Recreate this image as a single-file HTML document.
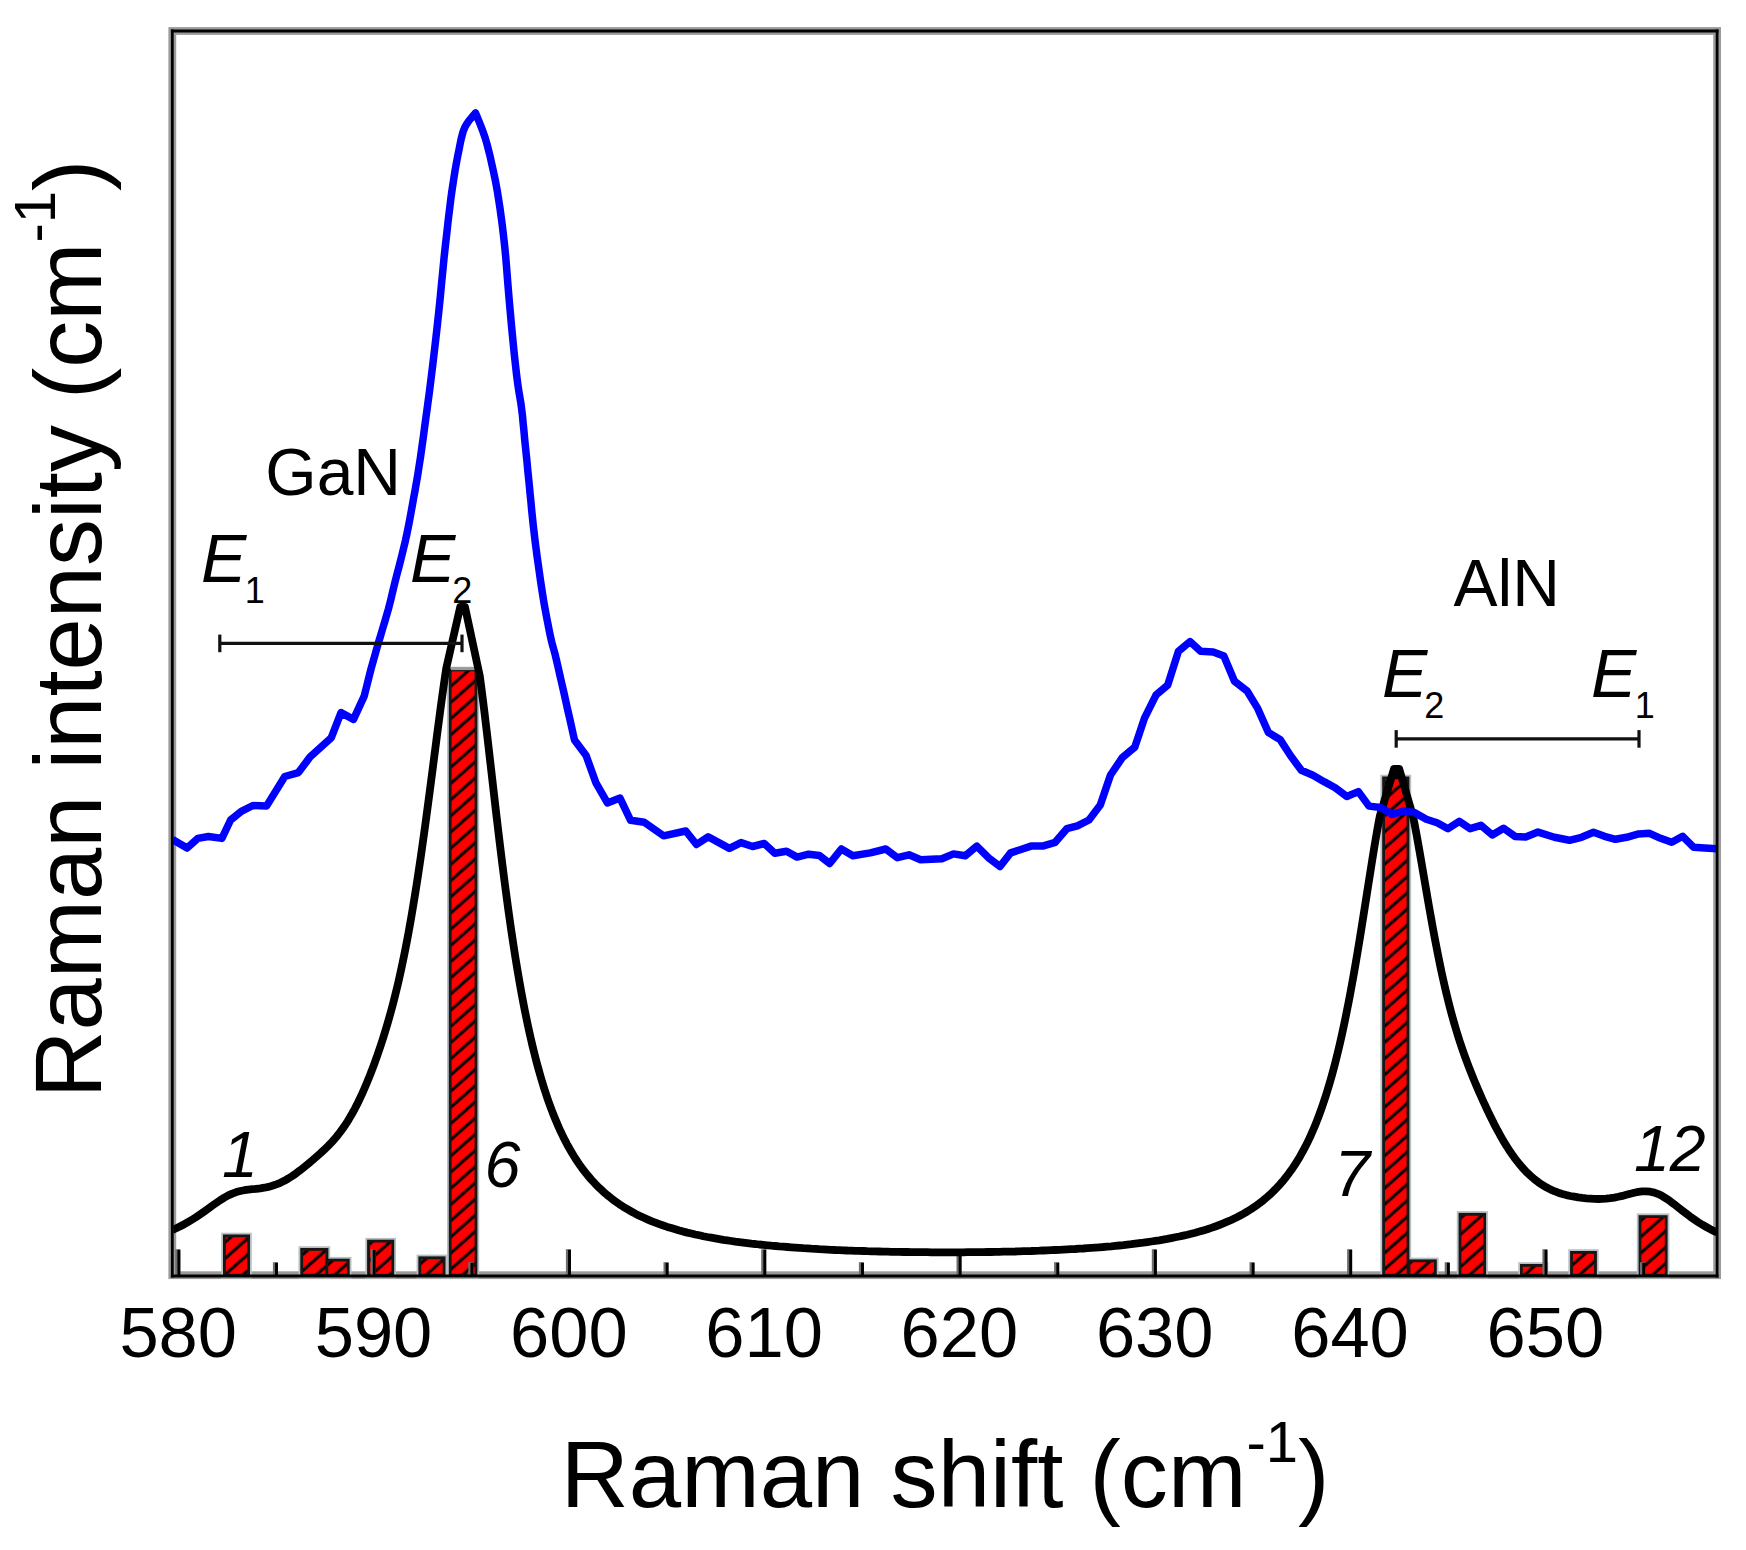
<!DOCTYPE html>
<html lang="en"><head><meta charset="utf-8"><title>Raman spectrum</title>
<style>html,body{margin:0;padding:0;background:#fff}body{width:1746px;height:1550px;overflow:hidden}svg{display:block}text{font-family:"Liberation Sans",sans-serif;fill:#000}.it{font-style:italic}</style></head><body>
<svg width="1746" height="1550" viewBox="0 0 1746 1550">
<defs>
<pattern id="h" patternUnits="userSpaceOnUse" width="12.13" height="12.13" patternTransform="translate(451 -2.3) rotate(-41.5)"><rect width="12.13" height="12.13" fill="#ff0000"/><line x1="0" y1="6.07" x2="12.13" y2="6.07" stroke="#140000" stroke-width="3.2"/></pattern>
<clipPath id="cp"><rect x="173.3" y="31.0" width="1542.8" height="1244.2"/></clipPath>
</defs>
<rect width="1746" height="1550" fill="#fff"/>
<rect x="172.3" y="31.0" width="1544.8" height="1244.2" fill="none" stroke="#9b9b9b" stroke-width="7.8"/>
<g stroke="#b9c0c4" stroke-width="6.4" fill="none">
<rect x="224.4" y="1235.9" width="24.2" height="39.3"/>
<rect x="301.7" y="1249.4" width="25.3" height="25.8"/>
<rect x="326.9" y="1260.1" width="21.4" height="15.1"/>
<rect x="368.5" y="1241.1" width="24.3" height="34.1"/>
<rect x="419.8" y="1257.8" width="24.3" height="17.4"/>
<rect x="450.2" y="669.9" width="25.8" height="605.3"/>
<rect x="1383.6" y="777.9" width="24.4" height="497.3"/>
<rect x="1409.0" y="1260.8" width="26.4" height="14.4"/>
<rect x="1460.0" y="1214.3" width="24.7" height="60.9"/>
<rect x="1521.4" y="1265.4" width="23.7" height="9.8"/>
<rect x="1571.5" y="1252.4" width="24.0" height="22.8"/>
<rect x="1640.0" y="1216.6" width="26.2" height="58.6"/>
</g>
<g stroke="#161616" stroke-width="2.8" fill="url(#h)">
<rect x="224.4" y="1235.9" width="24.2" height="39.3"/>
<rect x="301.7" y="1249.4" width="25.3" height="25.8"/>
<rect x="326.9" y="1260.1" width="21.4" height="15.1"/>
<rect x="368.5" y="1241.1" width="24.3" height="34.1"/>
<rect x="419.8" y="1257.8" width="24.3" height="17.4"/>
<rect x="450.2" y="669.9" width="25.8" height="605.3"/>
<rect x="1383.6" y="777.9" width="24.4" height="497.3"/>
<rect x="1409.0" y="1260.8" width="26.4" height="14.4"/>
<rect x="1460.0" y="1214.3" width="24.7" height="60.9"/>
<rect x="1521.4" y="1265.4" width="23.7" height="9.8"/>
<rect x="1571.5" y="1252.4" width="24.0" height="22.8"/>
<rect x="1640.0" y="1216.6" width="26.2" height="58.6"/>
</g>
<line x1="451" y1="668.6" x2="476" y2="668.6" stroke="#9a9a9a" stroke-width="3"/>
<g stroke="#6e6e6e" stroke-width="5.0">
<line x1="177.8" y1="1275.2" x2="177.8" y2="1249.2"/>
<line x1="275.4" y1="1275.2" x2="275.4" y2="1262.2"/>
<line x1="373.1" y1="1275.2" x2="373.1" y2="1249.2"/>
<line x1="470.8" y1="1275.2" x2="470.8" y2="1262.2"/>
<line x1="568.4" y1="1275.2" x2="568.4" y2="1249.2"/>
<line x1="666.0" y1="1275.2" x2="666.0" y2="1262.2"/>
<line x1="763.7" y1="1275.2" x2="763.7" y2="1249.2"/>
<line x1="861.4" y1="1275.2" x2="861.4" y2="1262.2"/>
<line x1="959.0" y1="1275.2" x2="959.0" y2="1249.2"/>
<line x1="1056.6" y1="1275.2" x2="1056.6" y2="1262.2"/>
<line x1="1154.3" y1="1275.2" x2="1154.3" y2="1249.2"/>
<line x1="1252.0" y1="1275.2" x2="1252.0" y2="1262.2"/>
<line x1="1349.6" y1="1275.2" x2="1349.6" y2="1249.2"/>
<line x1="1447.2" y1="1275.2" x2="1447.2" y2="1262.2"/>
<line x1="1544.9" y1="1275.2" x2="1544.9" y2="1249.2"/>
<line x1="1642.5" y1="1275.2" x2="1642.5" y2="1262.2"/>
</g>
<g stroke="#000" stroke-width="2.9">
<line x1="178.9" y1="1275.2" x2="178.9" y2="1249.8"/>
<line x1="276.5" y1="1275.2" x2="276.5" y2="1262.8"/>
<line x1="374.2" y1="1275.2" x2="374.2" y2="1249.8"/>
<line x1="471.9" y1="1275.2" x2="471.9" y2="1262.8"/>
<line x1="569.5" y1="1275.2" x2="569.5" y2="1249.8"/>
<line x1="667.1" y1="1275.2" x2="667.1" y2="1262.8"/>
<line x1="764.8" y1="1275.2" x2="764.8" y2="1249.8"/>
<line x1="862.5" y1="1275.2" x2="862.5" y2="1262.8"/>
<line x1="960.1" y1="1275.2" x2="960.1" y2="1249.8"/>
<line x1="1057.8" y1="1275.2" x2="1057.8" y2="1262.8"/>
<line x1="1155.4" y1="1275.2" x2="1155.4" y2="1249.8"/>
<line x1="1253.1" y1="1275.2" x2="1253.1" y2="1262.8"/>
<line x1="1350.7" y1="1275.2" x2="1350.7" y2="1249.8"/>
<line x1="1448.4" y1="1275.2" x2="1448.4" y2="1262.8"/>
<line x1="1546.0" y1="1275.2" x2="1546.0" y2="1249.8"/>
<line x1="1643.7" y1="1275.2" x2="1643.7" y2="1262.8"/>
</g>
<g clip-path="url(#cp)" fill="none" stroke-linejoin="round" stroke-linecap="butt">
<polyline stroke="#000" stroke-width="7.8" points="172.3,1230.0 176.3,1228.2 180.3,1226.3 184.3,1224.2 188.3,1221.9 192.3,1219.5 196.3,1217.0 200.3,1214.3 204.3,1211.5 208.3,1208.6 212.3,1205.7 216.3,1202.9 220.3,1200.1 224.3,1197.6 228.3,1195.4 232.3,1193.6 236.3,1192.1 240.3,1191.0 244.3,1190.2 248.3,1189.6 252.3,1189.2 256.3,1188.8 260.3,1188.3 264.3,1187.7 268.3,1186.9 272.3,1185.8 276.3,1184.4 280.3,1182.8 284.3,1180.8 288.3,1178.5 292.3,1176.0 296.3,1173.2 300.3,1170.2 304.3,1167.0 308.3,1163.8 312.3,1160.4 316.3,1156.9 320.3,1153.4 324.3,1149.7 328.3,1145.8 332.3,1141.6 336.3,1137.0 340.3,1131.9 344.3,1126.4 345.8,1124.1 347.3,1121.8 348.8,1119.4 350.3,1116.8 351.8,1114.2 353.3,1111.5 354.8,1108.8 356.3,1105.9 357.8,1102.9 359.3,1099.8 360.8,1096.6 362.3,1093.4 363.8,1090.0 365.3,1086.5 366.8,1083.0 368.3,1079.3 369.8,1075.6 371.3,1071.8 372.8,1067.8 374.3,1063.8 375.8,1059.7 377.3,1055.5 378.8,1051.1 380.3,1046.7 381.8,1042.1 383.3,1037.5 384.8,1032.7 386.3,1027.7 387.8,1022.6 389.3,1017.4 390.8,1012.0 392.3,1006.4 393.8,1000.7 395.3,994.8 396.8,988.6 398.3,982.3 399.8,975.7 401.3,968.9 402.8,961.8 404.3,954.5 405.8,947.0 407.3,939.2 408.8,931.1 410.3,922.7 411.8,914.1 413.3,905.2 414.8,896.0 416.3,886.6 417.8,876.9 419.3,866.9 420.8,856.7 422.3,846.2 423.8,835.5 425.3,824.7 426.8,813.6 428.3,802.3 429.8,791.0 431.3,779.5 432.8,767.9 434.3,756.3 435.8,744.7 437.3,733.1 438.8,721.7 440.3,710.3 441.8,699.3 443.3,688.5 444.8,678.0 446.3,668.0 460.2,607.0 465.0,607.0 479.8,676.0 481.3,687.2 482.8,699.0 484.3,711.1 485.8,723.6 487.3,736.3 488.8,749.2 490.3,762.2 491.8,775.3 493.3,788.3 494.8,801.3 496.3,814.2 497.8,826.9 499.3,839.5 500.8,851.8 502.3,863.9 503.8,875.8 505.3,887.3 506.8,898.6 508.3,909.6 509.8,920.3 511.3,930.7 512.8,940.7 514.3,950.5 515.8,960.0 517.3,969.1 518.8,977.9 520.3,986.5 521.8,994.7 523.3,1002.7 524.8,1010.4 526.3,1017.8 527.8,1025.0 529.3,1031.9 530.8,1038.5 532.3,1045.0 533.8,1051.2 535.3,1057.1 536.8,1062.9 538.3,1068.4 539.8,1073.8 541.3,1079.0 542.8,1083.9 544.3,1088.8 545.8,1093.4 547.3,1097.9 548.8,1102.2 550.3,1106.3 551.8,1110.4 553.3,1114.2 554.8,1118.0 556.3,1121.6 557.8,1125.1 559.3,1128.5 560.8,1131.8 562.3,1134.9 563.8,1138.0 565.3,1140.9 566.8,1143.8 568.3,1146.5 569.8,1149.2 571.3,1151.8 572.8,1154.3 574.3,1156.7 575.8,1159.1 577.3,1161.4 578.8,1163.6 580.3,1165.7 581.8,1167.8 583.3,1169.8 587.3,1174.9 591.3,1179.6 595.3,1183.9 599.3,1187.9 603.3,1191.7 607.3,1195.1 611.3,1198.3 615.3,1201.3 619.3,1204.2 623.3,1206.8 627.3,1209.2 631.3,1211.5 635.3,1213.7 639.3,1215.7 643.3,1217.6 647.3,1219.4 651.3,1221.1 655.3,1222.6 659.3,1224.1 663.3,1225.5 667.3,1226.9 671.3,1228.1 675.3,1229.3 679.3,1230.5 683.3,1231.6 687.3,1232.6 691.3,1233.5 695.3,1234.5 699.3,1235.3 703.3,1236.2 707.3,1237.0 711.3,1237.7 715.3,1238.4 719.3,1239.1 723.3,1239.8 727.3,1240.4 731.3,1241.0 735.3,1241.6 739.3,1242.1 743.3,1242.6 747.3,1243.1 751.3,1243.6 755.3,1244.0 759.3,1244.5 763.3,1244.9 767.3,1245.3 771.3,1245.7 775.3,1246.0 779.3,1246.4 783.3,1246.7 787.3,1247.0 791.3,1247.3 795.3,1247.6 799.3,1247.9 803.3,1248.2 807.3,1248.4 811.3,1248.7 815.3,1248.9 819.3,1249.2 823.3,1249.4 827.3,1249.6 831.3,1249.8 835.3,1250.0 839.3,1250.1 843.3,1250.3 847.3,1250.5 851.3,1250.6 855.3,1250.8 859.3,1250.9 863.3,1251.0 867.3,1251.2 871.3,1251.3 875.3,1251.4 879.3,1251.5 883.3,1251.6 887.3,1251.7 891.3,1251.8 895.3,1251.8 899.3,1251.9 903.3,1252.0 907.3,1252.0 911.3,1252.1 915.3,1252.1 919.3,1252.2 923.3,1252.2 927.3,1252.2 931.3,1252.3 935.3,1252.3 939.3,1252.3 943.3,1252.3 947.3,1252.3 951.3,1252.3 955.3,1252.3 959.3,1252.3 963.3,1252.3 967.3,1252.2 971.3,1252.2 975.3,1252.2 979.3,1252.1 983.3,1252.1 987.3,1252.0 991.3,1252.0 995.3,1251.9 999.3,1251.8 1003.3,1251.7 1007.3,1251.7 1011.3,1251.6 1015.3,1251.5 1019.3,1251.3 1023.3,1251.2 1027.3,1251.1 1031.3,1251.0 1035.3,1250.8 1039.3,1250.7 1043.3,1250.5 1047.3,1250.4 1051.3,1250.2 1055.3,1250.0 1059.3,1249.8 1063.3,1249.6 1067.3,1249.4 1071.3,1249.2 1075.3,1249.0 1079.3,1248.7 1083.3,1248.5 1087.3,1248.2 1091.3,1247.9 1095.3,1247.6 1099.3,1247.3 1103.3,1247.0 1107.3,1246.6 1111.3,1246.3 1115.3,1245.9 1119.3,1245.5 1123.3,1245.1 1127.3,1244.6 1131.3,1244.2 1135.3,1243.7 1139.3,1243.2 1143.3,1242.7 1147.3,1242.1 1151.3,1241.5 1155.3,1240.9 1159.3,1240.3 1163.3,1239.6 1167.3,1238.9 1171.3,1238.1 1175.3,1237.3 1179.3,1236.5 1183.3,1235.6 1187.3,1234.7 1191.3,1233.7 1195.3,1232.7 1199.3,1231.6 1203.3,1230.4 1207.3,1229.2 1211.3,1227.9 1215.3,1226.5 1219.3,1225.0 1223.3,1223.4 1227.3,1221.7 1231.3,1220.0 1235.3,1218.1 1239.3,1216.0 1243.3,1213.8 1247.3,1211.5 1251.3,1209.0 1255.3,1206.3 1259.3,1203.4 1263.3,1200.3 1267.3,1196.9 1271.3,1193.3 1275.3,1189.4 1279.3,1185.1 1280.8,1183.4 1282.3,1181.7 1283.8,1179.9 1285.3,1178.0 1286.8,1176.1 1288.3,1174.2 1289.8,1172.1 1291.3,1170.0 1292.8,1167.9 1294.3,1165.6 1295.8,1163.3 1297.3,1160.9 1298.8,1158.4 1300.3,1155.9 1301.8,1153.2 1303.3,1150.5 1304.8,1147.6 1306.3,1144.7 1307.8,1141.7 1309.3,1138.6 1310.8,1135.3 1312.3,1131.9 1313.8,1128.5 1315.3,1124.9 1316.8,1121.1 1318.3,1117.3 1319.8,1113.2 1321.3,1109.1 1322.8,1104.8 1324.3,1100.3 1325.8,1095.7 1327.3,1090.9 1328.8,1086.0 1330.3,1080.9 1331.8,1075.6 1333.3,1070.1 1334.8,1064.4 1336.3,1058.5 1337.8,1052.4 1339.3,1046.1 1340.8,1039.6 1342.3,1032.8 1343.8,1025.9 1345.3,1018.7 1346.8,1011.3 1348.3,1003.7 1349.8,995.9 1351.3,987.9 1352.8,979.6 1354.3,971.2 1355.8,962.5 1357.3,953.7 1358.8,944.6 1360.3,935.5 1361.8,926.2 1363.3,916.7 1364.8,907.2 1366.3,897.7 1367.8,888.1 1369.3,878.6 1370.8,869.1 1372.3,859.7 1373.8,850.4 1375.3,841.4 1376.8,832.7 1378.3,824.2 1379.8,816.2 1394.0,768.9 1399.2,768.9 1413.3,817.4 1414.8,825.2 1416.3,833.2 1417.8,841.5 1419.3,850.0 1420.8,858.7 1422.3,867.4 1423.8,876.2 1425.3,884.9 1426.8,893.7 1428.3,902.3 1429.8,910.9 1431.3,919.3 1432.8,927.6 1434.3,935.7 1435.8,943.6 1437.3,951.3 1438.8,958.8 1440.3,966.1 1441.8,973.2 1443.3,980.0 1444.8,986.6 1446.3,993.0 1447.8,999.2 1449.3,1005.2 1450.8,1010.9 1452.3,1016.5 1453.8,1021.9 1455.3,1027.0 1456.8,1032.0 1458.3,1036.9 1459.8,1041.6 1461.3,1046.1 1462.8,1050.5 1464.3,1054.7 1465.8,1058.9 1467.3,1062.9 1468.8,1066.9 1470.3,1070.7 1471.8,1074.5 1473.3,1078.2 1474.8,1081.9 1476.3,1085.4 1477.8,1089.0 1479.3,1092.4 1480.8,1095.8 1482.3,1099.2 1483.8,1102.5 1485.3,1105.7 1486.8,1109.0 1488.3,1112.1 1489.8,1115.2 1491.3,1118.3 1492.8,1121.3 1494.3,1124.3 1495.8,1127.1 1497.3,1130.0 1498.8,1132.7 1500.3,1135.5 1501.8,1138.1 1503.3,1140.7 1504.8,1143.2 1506.3,1145.6 1507.8,1148.0 1509.3,1150.3 1510.8,1152.6 1512.3,1154.7 1513.8,1156.8 1515.3,1158.9 1516.8,1160.8 1518.3,1162.7 1522.3,1167.5 1526.3,1171.8 1530.3,1175.6 1534.3,1179.1 1538.3,1182.2 1542.3,1184.9 1546.3,1187.3 1550.3,1189.4 1554.3,1191.2 1558.3,1192.7 1562.3,1194.0 1566.3,1195.1 1570.3,1196.0 1574.3,1196.7 1578.3,1197.4 1582.3,1197.9 1586.3,1198.3 1590.3,1198.6 1594.3,1198.9 1598.3,1199.0 1602.3,1198.9 1606.3,1198.7 1610.3,1198.2 1614.3,1197.6 1618.3,1196.8 1622.3,1195.9 1626.3,1194.8 1630.3,1193.7 1634.3,1192.7 1638.3,1191.9 1642.3,1191.4 1646.3,1191.3 1650.3,1191.7 1654.3,1192.6 1658.3,1194.1 1662.3,1196.1 1666.3,1198.6 1670.3,1201.3 1674.3,1204.3 1678.3,1207.5 1682.3,1210.6 1686.3,1213.7 1690.3,1216.7 1694.3,1219.5 1698.3,1222.2 1702.3,1224.7 1706.3,1227.0 1710.3,1229.2 1714.3,1231.2 1717.1,1232.5"/>
<polygon fill="#000" stroke="none" points="1394.0,768.9 1399.2,768.9 1406.0,779.0 1388.0,779.0"/>
<polyline stroke="#0000ff" stroke-width="7.5" points="172.5,839.5 187.1,848.1 197.7,838.4 208.4,836.5 221.9,838.4 230.6,820.0 241.3,811.3 252.9,805.5 266.5,806.1 284.8,776.5 298.4,772.6 310.0,757.1 331.3,737.7 341.0,712.6 353.5,719.4 364.2,696.1 371.0,669.0 372.0,665.4 373.4,660.4 375.1,654.5 376.9,648.1 378.7,641.9 380.6,635.6 382.6,628.8 384.7,621.9 386.6,615.2 388.4,609.0 389.8,603.6 391.0,598.9 392.1,594.2 393.3,589.1 394.8,582.9 396.7,575.3 399.0,566.7 401.3,557.6 403.5,548.6 405.5,540.3 407.1,532.9 408.5,526.0 409.8,519.3 411.0,512.6 412.3,505.5 413.6,498.2 415.0,490.8 416.3,483.2 417.7,475.2 419.0,466.8 420.4,457.7 421.8,447.9 423.2,437.9 424.5,427.9 425.8,418.4 427.0,409.7 428.1,401.6 429.2,393.5 430.3,384.8 431.5,375.0 432.9,363.8 434.3,351.6 435.8,338.7 437.3,325.5 438.7,312.3 440.1,298.9 441.4,285.0 442.8,271.0 444.1,257.4 445.5,244.5 446.9,232.3 448.2,220.4 449.6,209.0 450.9,198.3 452.3,188.4 453.7,179.3 455.0,170.9 456.4,163.2 457.7,156.1 459.0,149.7 460.1,144.1 461.1,139.2 462.2,135.0 463.3,131.1 464.8,127.4 466.8,123.8 469.2,120.4 471.8,117.3 474.0,114.8 475.5,113.0 476.9,116.3 478.8,120.9 481.0,126.4 483.2,132.2 485.2,138.0 486.9,143.8 488.5,150.0 490.1,156.3 491.5,162.7 492.9,169.0 494.2,175.0 495.4,180.8 496.5,186.6 497.6,192.9 498.7,200.0 499.9,207.7 501.0,215.7 502.2,224.4 503.3,233.9 504.5,244.5 505.7,256.7 506.8,270.2 507.9,284.4 509.1,298.7 510.3,312.3 511.5,325.6 512.8,339.1 514.1,352.3 515.4,364.4 516.6,375.0 517.7,383.5 518.7,390.3 519.7,396.3 520.7,402.1 521.6,408.7 522.5,416.1 523.2,423.8 524.0,431.7 524.7,439.6 525.5,447.4 526.3,455.1 527.1,462.9 527.8,470.6 528.6,478.4 529.4,486.1 530.1,493.8 530.9,501.6 531.6,509.3 532.4,517.1 533.2,524.8 534.1,532.5 535.0,540.3 536.0,548.0 537.0,555.8 538.1,563.5 539.2,571.3 540.3,579.2 541.5,587.1 542.7,594.8 543.9,602.3 545.2,609.7 546.6,617.1 548.0,624.3 549.3,631.0 550.6,637.1 551.7,641.9 552.7,645.7 553.7,649.2 554.8,653.2 556.1,658.7 557.8,665.9 559.7,674.4 561.8,683.5 563.9,692.7 565.8,701.3 567.7,709.9 569.8,718.9 571.7,727.5 573.3,734.8 574.5,740.0 586.1,755.5 595.8,782.6 607.4,802.9 620.0,798.1 630.6,820.3 644.2,822.3 663.5,835.8 685.8,831.0 696.5,844.5 708.1,836.8 729.4,848.4 741.0,842.6 752.6,846.5 764.2,843.5 774.8,853.2 786.5,851.3 797.1,857.1 808.7,854.2 819.4,855.5 829.7,863.5 841.3,849.0 852.9,855.8 870.3,852.9 885.8,849.0 897.4,857.7 909.0,854.8 920.6,859.7 941.9,858.7 953.5,853.9 965.2,855.8 976.8,846.1 988.4,857.7 1000.0,866.5 1010.6,852.9 1031.0,846.1 1042.6,846.1 1055.2,842.3 1066.8,828.7 1077.4,825.8 1089.0,820.0 1100.3,805.0 1110.5,775.0 1122.3,757.7 1134.8,747.1 1144.5,718.1 1156.1,694.8 1167.7,685.2 1178.4,651.3 1190.0,641.6 1200.6,651.3 1213.2,651.9 1223.9,656.1 1234.5,681.3 1247.1,691.0 1257.7,708.4 1268.4,732.6 1280.0,739.4 1290.6,755.8 1301.3,770.3 1312.9,775.2 1324.5,781.9 1335.2,787.7 1346.8,796.5 1358.4,791.6 1369.0,806.1 1380.6,807.5 1392.3,814.4 1403.6,811.0 1414.4,812.4 1426.3,819.3 1437.1,822.8 1448.0,828.7 1459.3,821.3 1470.1,828.7 1481.0,825.3 1492.3,835.0 1503.6,828.2 1515.0,836.4 1525.7,837.0 1538.0,832.1 1554.4,837.3 1569.4,840.3 1581.5,837.3 1593.5,832.3 1604.5,836.3 1615.5,839.3 1626.6,837.3 1638.6,833.9 1649.6,833.3 1660.6,838.3 1671.7,842.3 1682.7,836.3 1693.7,847.3 1704.7,847.9 1717.3,848.8"/>
</g>
<g stroke="#111" fill="none">
<line x1="219.8" y1="643.4" x2="462.0" y2="643.4" stroke-width="3.1"/>
<line x1="219.8" y1="634.6" x2="219.8" y2="652.2" stroke-width="3.2"/>
<line x1="462.0" y1="634.6" x2="462.0" y2="652.2" stroke-width="3.2"/>
<line x1="1396.2" y1="738.9" x2="1639.0" y2="738.9" stroke-width="3.1"/>
<line x1="1396.2" y1="730.1" x2="1396.2" y2="747.7" stroke-width="3.2"/>
<line x1="1639.0" y1="730.1" x2="1639.0" y2="747.7" stroke-width="3.2"/>
</g>
<g stroke="#000" stroke-width="2.8" stroke-linecap="square">
<line x1="172.3" y1="31.0" x2="1717.1" y2="31.0"/>
<line x1="172.3" y1="31.0" x2="172.3" y2="1276.0"/>
<line x1="1717.1" y1="31.0" x2="1717.1" y2="1276.0"/>
<line x1="172.3" y1="1276.0" x2="1717.1" y2="1276.0"/>
</g>
<g font-size="70.5" text-anchor="middle">
<text x="178.2" y="1357.2">580</text>
<text x="373.5" y="1357.2">590</text>
<text x="568.8" y="1357.2">600</text>
<text x="764.1" y="1357.2">610</text>
<text x="959.4" y="1357.2">620</text>
<text x="1154.7" y="1357.2">630</text>
<text x="1350.0" y="1357.2">640</text>
<text x="1545.3" y="1357.2">650</text>
</g>
<text x="560.8" y="1507.2" font-size="94.2">Raman shift (cm<tspan font-size="58" dy="-45.6">-1</tspan><tspan dy="45.6">)</tspan></text>
<text transform="translate(101 1098.3) rotate(-90)" font-size="93.9">Raman intensity (cm<tspan font-size="58" dy="-45.6">-1</tspan><tspan dy="45.6">)</tspan></text>
<g font-size="66">
<text x="265.3" y="495.4">GaN</text>
<text x="1453.6" y="606.2">AlN</text>
</g><g font-size="68">
<text class="it" x="201.0" y="582.2">E<tspan font-size="36" font-style="normal" dx="-1.5" dy="20.5">1</tspan></text>
<text class="it" x="410.0" y="582.2">E<tspan font-size="36" font-style="normal" dx="-3" dy="20.5">2</tspan></text>
<text class="it" x="1382.0" y="696.8">E<tspan font-size="36" font-style="normal" dx="-3" dy="21">2</tspan></text>
<text class="it" x="1591.0" y="696.8">E<tspan font-size="36" font-style="normal" dx="-1.5" dy="21">1</tspan></text>
</g>
<g font-size="64.5" class="it">
<text x="222" y="1176.5">1</text>
<text x="484.6" y="1186.9">6</text>
<text x="1334.2" y="1195.5">7</text>
<text x="1634" y="1170.8">12</text>
</g>
</svg></body></html>
